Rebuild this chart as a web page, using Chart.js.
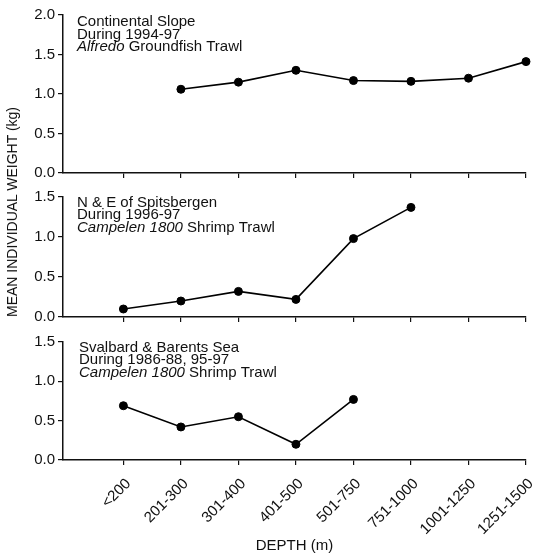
<!DOCTYPE html>
<html>
<head>
<meta charset="utf-8">
<script src="https://cdn.jsdelivr.net/npm/chart.js@4/dist/chart.umd.min.js"></script>
<style>
  html, body { margin: 0; padding: 0; background: #fff; }
  #wrap { position: relative; width: 538px; height: 556px; overflow: hidden; }
  #wrap canvas { position: absolute; left: 0; }
  #ytitle {
    position: absolute; left: 12px; top: 212px;
    transform: translate(-50%, -50%) rotate(-90deg);
    font: 14px "Liberation Sans", Arial, sans-serif;
    white-space: nowrap; color: #111;
  }
</style>
</head>
<body>
<div id="wrap">
  <canvas id="c1" width="538" height="185" style="top:0px"></canvas>
  <canvas id="c2" width="538" height="144" style="top:185px"></canvas>
  <canvas id="c3" width="538" height="227" style="top:329px"></canvas>
  <div id="ytitle">MEAN INDIVIDUAL WEIGHT (kg)</div>
</div>
<script>
// Depth classes shared by all three panels
const depthClasses = ['<200', '201-300', '301-400', '401-500', '501-750', '751-1000', '1001-1250', '1251-1500'];

// Mean individual weight (kg) per depth class; null = no sampling
const slopeWeights       = [null, 1.06, 1.15, 1.30, 1.17, 1.16, 1.20, 1.41];
const spitsbergenWeights = [0.10, 0.20, 0.32, 0.22, 0.98, 1.37, null, null];
const barentsWeights     = [0.69, 0.42, 0.55, 0.20, 0.77, null, null, null];

// Y tick values per panel
const slopeTicks  = [0, 0.5, 1.0, 1.5, 2.0];
const shrimpTicks = [0, 0.5, 1.0, 1.5];

// Panel annotations: each line is a list of [text, italic]
const slopeNotes = [
  [['Continental Slope', false]],
  [['During 1994-97', false]],
  [['Alfredo', true], [' Groundfish Trawl', false]]
];
const spitsbergenNotes = [
  [['N & E of Spitsbergen', false]],
  [['During 1996-97', false]],
  [['Campelen 1800', true], [' Shrimp Trawl', false]]
];
const barentsNotes = [
  [['Svalbard & Barents Sea', false]],
  [['During 1986-88, 95-97', false]],
  [['Campelen 1800', true], [' Shrimp Trawl', false]]
];

const FONT = '"Liberation Sans", Arial, Helvetica, sans-serif';
const INK = '#111';

const notesPlugin = {
  id: 'notes',
  afterDraw(chart, args, opts) {
    if (!opts.lines) return;
    const { ctx, chartArea } = chart;
    ctx.save();
    ctx.fillStyle = INK;
    ctx.textBaseline = 'alphabetic';
    ctx.textAlign = 'left';
    opts.lines.forEach((segs, li) => {
      let x = chartArea.left + opts.dx;
      const y = chartArea.top + opts.dy + li * opts.lh;
      segs.forEach(([txt, italic]) => {
        ctx.font = (italic ? 'italic ' : '') + '15px ' + FONT;
        ctx.fillText(txt, x, y);
        x += ctx.measureText(txt).width;
      });
    });
    ctx.restore();
  }
};

function makePanel(id, values, yTicks, notes, cfg) {
  const points = depthClasses.map((c, i) => ({ x: i, y: values[i] })).filter(p => p.y !== null);
  return new Chart(document.getElementById(id), {
    type: 'line',
    data: {
      datasets: [{
        data: points,
        borderColor: '#000',
        borderWidth: 1.6,
        pointRadius: 4,
        pointBorderWidth: 1,
        pointBackgroundColor: '#000',
        pointBorderColor: '#000',
        tension: 0,
        clip: false
      }]
    },
    plugins: [notesPlugin],
    options: {
      responsive: false,
      animation: false,
      events: [],
      layout: { padding: { top: cfg.padTop, right: 12, left: 0, bottom: 0 } },
      plugins: {
        legend: { display: false },
        tooltip: { enabled: false },
        notes: { lines: notes, dx: cfg.dx, dy: cfg.dy, lh: 12.6 }
      },
      scales: {
        x: {
          type: 'linear',
          min: -1.05,
          max: depthClasses.length - 1,
          afterBuildTicks: s => { s.ticks = depthClasses.map((c, i) => ({ value: i })); },
          afterFit: s => {
            s.height = cfg.xHeight;
            // keep the same plot width in every panel
            s.paddingLeft = 0;
            s.paddingRight = 0;
          },
          grid: { drawOnChartArea: false, drawTicks: true, tickLength: 5, color: INK, lineWidth: 1.2 },
          border: { display: true, color: INK, width: 1.5 },
          ticks: {
            display: cfg.showLabels,
            autoSkip: false,
            minRotation: 45,
            maxRotation: 45,
            labelOffset: 5,
            padding: 10,
            color: INK,
            font: { family: FONT, size: 15 },
            callback: v => depthClasses[v]
          },
          title: {
            display: cfg.showLabels,
            text: 'DEPTH (m)',
            color: INK,
            font: { family: FONT, size: 15 },
            padding: { top: 0, bottom: 1 }
          }
        },
        y: {
          type: 'linear',
          min: 0,
          max: yTicks[yTicks.length - 1],
          afterBuildTicks: s => { s.ticks = yTicks.map(v => ({ value: v })); },
          afterFit: s => { s.width = 63; },
          grid: { drawOnChartArea: false, drawTicks: true, tickLength: 5, color: INK, lineWidth: 1.2 },
          border: { display: true, color: INK, width: 1.5 },
          ticks: {
            padding: 3,
            color: INK,
            font: { family: FONT, size: 15 },
            callback: v => v.toFixed(1)
          }
        }
      }
    }
  });
}

makePanel('c1', slopeWeights, slopeTicks, slopeNotes,
  { padTop: 15, xHeight: 12, showLabels: false, dx: 14, dy: 11 });
makePanel('c2', spitsbergenWeights, shrimpTicks, spitsbergenNotes,
  { padTop: 12, xHeight: 12, showLabels: false, dx: 14, dy: 9.5 });
makePanel('c3', barentsWeights, shrimpTicks, barentsNotes,
  { padTop: 13, xHeight: 96, showLabels: true, dx: 16, dy: 9.5 });
</script>
</body>
</html>
